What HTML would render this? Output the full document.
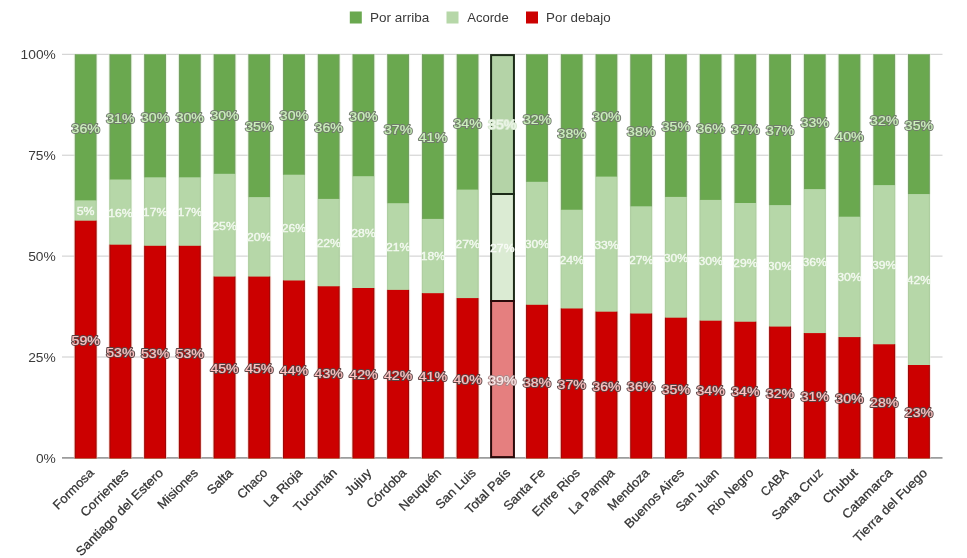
<!DOCTYPE html>
<html><head><meta charset="utf-8"><style>
html,body{margin:0;padding:0;background:#fff;width:967px;height:558px;overflow:hidden}
svg{display:block;filter:blur(0.45px)}
</style></head><body>
<svg width="967" height="558" viewBox="0 0 967 558">
<rect x="0" y="0" width="967" height="558" fill="#ffffff"/>
<rect x="349.8" y="11.5" width="12" height="12" fill="#6aa84f"/>
<text x="369.9" y="22.4" font-family="Liberation Sans, sans-serif" font-size="12.6" fill="#3a3a3a" textLength="59.3" lengthAdjust="spacingAndGlyphs">Por arriba</text>
<rect x="446.5" y="11.5" width="12" height="12" fill="#b6d7a8"/>
<text x="467.2" y="22.4" font-family="Liberation Sans, sans-serif" font-size="12.6" fill="#3a3a3a" textLength="41.5" lengthAdjust="spacingAndGlyphs">Acorde</text>
<rect x="526.0" y="11.5" width="12" height="12" fill="#cc0000"/>
<text x="546.1" y="22.4" font-family="Liberation Sans, sans-serif" font-size="12.6" fill="#3a3a3a" textLength="64.6" lengthAdjust="spacingAndGlyphs">Por debajo</text>
<rect x="62" y="53.80" width="880.5" height="1" fill="#cccccc"/>
<rect x="62" y="154.70" width="880.5" height="1" fill="#cccccc"/>
<rect x="62" y="255.60" width="880.5" height="1" fill="#cccccc"/>
<rect x="62" y="356.50" width="880.5" height="1" fill="#cccccc"/>
<text x="55.8" y="58.90" font-family="Liberation Sans, sans-serif" font-size="12.3" fill="#3c3c3c" text-anchor="end" textLength="35.2" lengthAdjust="spacingAndGlyphs">100%</text>
<text x="55.8" y="159.80" font-family="Liberation Sans, sans-serif" font-size="12.3" fill="#3c3c3c" text-anchor="end" textLength="27.6" lengthAdjust="spacingAndGlyphs">75%</text>
<text x="55.8" y="260.70" font-family="Liberation Sans, sans-serif" font-size="12.3" fill="#3c3c3c" text-anchor="end" textLength="27.6" lengthAdjust="spacingAndGlyphs">50%</text>
<text x="55.8" y="361.60" font-family="Liberation Sans, sans-serif" font-size="12.3" fill="#3c3c3c" text-anchor="end" textLength="27.6" lengthAdjust="spacingAndGlyphs">25%</text>
<text x="55.8" y="462.50" font-family="Liberation Sans, sans-serif" font-size="12.3" fill="#3c3c3c" text-anchor="end" textLength="19.9" lengthAdjust="spacingAndGlyphs">0%</text>
<rect x="62" y="457.15" width="880.5" height="1.5" fill="#8c8c8c"/>
<rect x="74.70" y="54.30" width="21.9" height="404.20" fill="#6aa84f"/>
<rect x="74.70" y="200.35" width="21.9" height="258.15" fill="#b6d7a8"/>
<rect x="74.70" y="220.70" width="21.9" height="237.80" fill="#cc0000"/>
<rect x="74.70" y="54.30" width="1" height="146.05" fill="#7d9675" opacity="0.55"/>
<rect x="95.60" y="54.30" width="1" height="146.05" fill="#7d9675" opacity="0.55"/>
<rect x="73.70" y="54.30" width="1" height="146.05" fill="#e2f4d9" opacity="0.6"/>
<rect x="96.60" y="54.30" width="1" height="146.05" fill="#e2f4d9" opacity="0.6"/>
<rect x="74.70" y="200.35" width="1" height="20.35" fill="#a3bd98" opacity="0.35"/>
<rect x="95.60" y="200.35" width="1" height="20.35" fill="#a3bd98" opacity="0.35"/>
<rect x="73.70" y="200.35" width="1" height="20.35" fill="#eef8ea" opacity="0.5"/>
<rect x="96.60" y="200.35" width="1" height="20.35" fill="#eef8ea" opacity="0.5"/>
<rect x="74.70" y="220.70" width="1" height="237.20" fill="#8a0c0c" opacity="0.75"/>
<rect x="95.60" y="220.70" width="1" height="237.20" fill="#8a0c0c" opacity="0.75"/>
<rect x="73.70" y="220.70" width="1" height="237.20" fill="#ffc4c4" opacity="0.6"/>
<rect x="96.60" y="220.70" width="1" height="237.20" fill="#ffc4c4" opacity="0.6"/>
<rect x="109.42" y="54.30" width="21.9" height="404.20" fill="#6aa84f"/>
<rect x="109.42" y="179.50" width="21.9" height="279.00" fill="#b6d7a8"/>
<rect x="109.42" y="244.70" width="21.9" height="213.80" fill="#cc0000"/>
<rect x="109.42" y="54.30" width="1" height="125.20" fill="#7d9675" opacity="0.55"/>
<rect x="130.32" y="54.30" width="1" height="125.20" fill="#7d9675" opacity="0.55"/>
<rect x="108.42" y="54.30" width="1" height="125.20" fill="#e2f4d9" opacity="0.6"/>
<rect x="131.32" y="54.30" width="1" height="125.20" fill="#e2f4d9" opacity="0.6"/>
<rect x="109.42" y="179.50" width="1" height="65.20" fill="#a3bd98" opacity="0.35"/>
<rect x="130.32" y="179.50" width="1" height="65.20" fill="#a3bd98" opacity="0.35"/>
<rect x="108.42" y="179.50" width="1" height="65.20" fill="#eef8ea" opacity="0.5"/>
<rect x="131.32" y="179.50" width="1" height="65.20" fill="#eef8ea" opacity="0.5"/>
<rect x="109.42" y="244.70" width="1" height="213.20" fill="#8a0c0c" opacity="0.75"/>
<rect x="130.32" y="244.70" width="1" height="213.20" fill="#8a0c0c" opacity="0.75"/>
<rect x="108.42" y="244.70" width="1" height="213.20" fill="#ffc4c4" opacity="0.6"/>
<rect x="131.32" y="244.70" width="1" height="213.20" fill="#ffc4c4" opacity="0.6"/>
<rect x="144.14" y="54.30" width="21.9" height="404.20" fill="#6aa84f"/>
<rect x="144.14" y="177.30" width="21.9" height="281.20" fill="#b6d7a8"/>
<rect x="144.14" y="245.80" width="21.9" height="212.70" fill="#cc0000"/>
<rect x="144.14" y="54.30" width="1" height="123.00" fill="#7d9675" opacity="0.55"/>
<rect x="165.04" y="54.30" width="1" height="123.00" fill="#7d9675" opacity="0.55"/>
<rect x="143.14" y="54.30" width="1" height="123.00" fill="#e2f4d9" opacity="0.6"/>
<rect x="166.04" y="54.30" width="1" height="123.00" fill="#e2f4d9" opacity="0.6"/>
<rect x="144.14" y="177.30" width="1" height="68.50" fill="#a3bd98" opacity="0.35"/>
<rect x="165.04" y="177.30" width="1" height="68.50" fill="#a3bd98" opacity="0.35"/>
<rect x="143.14" y="177.30" width="1" height="68.50" fill="#eef8ea" opacity="0.5"/>
<rect x="166.04" y="177.30" width="1" height="68.50" fill="#eef8ea" opacity="0.5"/>
<rect x="144.14" y="245.80" width="1" height="212.10" fill="#8a0c0c" opacity="0.75"/>
<rect x="165.04" y="245.80" width="1" height="212.10" fill="#8a0c0c" opacity="0.75"/>
<rect x="143.14" y="245.80" width="1" height="212.10" fill="#ffc4c4" opacity="0.6"/>
<rect x="166.04" y="245.80" width="1" height="212.10" fill="#ffc4c4" opacity="0.6"/>
<rect x="178.86" y="54.30" width="21.9" height="404.20" fill="#6aa84f"/>
<rect x="178.86" y="177.30" width="21.9" height="281.20" fill="#b6d7a8"/>
<rect x="178.86" y="245.80" width="21.9" height="212.70" fill="#cc0000"/>
<rect x="178.86" y="54.30" width="1" height="123.00" fill="#7d9675" opacity="0.55"/>
<rect x="199.76" y="54.30" width="1" height="123.00" fill="#7d9675" opacity="0.55"/>
<rect x="177.86" y="54.30" width="1" height="123.00" fill="#e2f4d9" opacity="0.6"/>
<rect x="200.76" y="54.30" width="1" height="123.00" fill="#e2f4d9" opacity="0.6"/>
<rect x="178.86" y="177.30" width="1" height="68.50" fill="#a3bd98" opacity="0.35"/>
<rect x="199.76" y="177.30" width="1" height="68.50" fill="#a3bd98" opacity="0.35"/>
<rect x="177.86" y="177.30" width="1" height="68.50" fill="#eef8ea" opacity="0.5"/>
<rect x="200.76" y="177.30" width="1" height="68.50" fill="#eef8ea" opacity="0.5"/>
<rect x="178.86" y="245.80" width="1" height="212.10" fill="#8a0c0c" opacity="0.75"/>
<rect x="199.76" y="245.80" width="1" height="212.10" fill="#8a0c0c" opacity="0.75"/>
<rect x="177.86" y="245.80" width="1" height="212.10" fill="#ffc4c4" opacity="0.6"/>
<rect x="200.76" y="245.80" width="1" height="212.10" fill="#ffc4c4" opacity="0.6"/>
<rect x="213.58" y="54.30" width="21.9" height="404.20" fill="#6aa84f"/>
<rect x="213.58" y="173.80" width="21.9" height="284.70" fill="#b6d7a8"/>
<rect x="213.58" y="276.60" width="21.9" height="181.90" fill="#cc0000"/>
<rect x="213.58" y="54.30" width="1" height="119.50" fill="#7d9675" opacity="0.55"/>
<rect x="234.48" y="54.30" width="1" height="119.50" fill="#7d9675" opacity="0.55"/>
<rect x="212.58" y="54.30" width="1" height="119.50" fill="#e2f4d9" opacity="0.6"/>
<rect x="235.48" y="54.30" width="1" height="119.50" fill="#e2f4d9" opacity="0.6"/>
<rect x="213.58" y="173.80" width="1" height="102.80" fill="#a3bd98" opacity="0.35"/>
<rect x="234.48" y="173.80" width="1" height="102.80" fill="#a3bd98" opacity="0.35"/>
<rect x="212.58" y="173.80" width="1" height="102.80" fill="#eef8ea" opacity="0.5"/>
<rect x="235.48" y="173.80" width="1" height="102.80" fill="#eef8ea" opacity="0.5"/>
<rect x="213.58" y="276.60" width="1" height="181.30" fill="#8a0c0c" opacity="0.75"/>
<rect x="234.48" y="276.60" width="1" height="181.30" fill="#8a0c0c" opacity="0.75"/>
<rect x="212.58" y="276.60" width="1" height="181.30" fill="#ffc4c4" opacity="0.6"/>
<rect x="235.48" y="276.60" width="1" height="181.30" fill="#ffc4c4" opacity="0.6"/>
<rect x="248.30" y="54.30" width="21.9" height="404.20" fill="#6aa84f"/>
<rect x="248.30" y="197.10" width="21.9" height="261.40" fill="#b6d7a8"/>
<rect x="248.30" y="276.60" width="21.9" height="181.90" fill="#cc0000"/>
<rect x="248.30" y="54.30" width="1" height="142.80" fill="#7d9675" opacity="0.55"/>
<rect x="269.20" y="54.30" width="1" height="142.80" fill="#7d9675" opacity="0.55"/>
<rect x="247.30" y="54.30" width="1" height="142.80" fill="#e2f4d9" opacity="0.6"/>
<rect x="270.20" y="54.30" width="1" height="142.80" fill="#e2f4d9" opacity="0.6"/>
<rect x="248.30" y="197.10" width="1" height="79.50" fill="#a3bd98" opacity="0.35"/>
<rect x="269.20" y="197.10" width="1" height="79.50" fill="#a3bd98" opacity="0.35"/>
<rect x="247.30" y="197.10" width="1" height="79.50" fill="#eef8ea" opacity="0.5"/>
<rect x="270.20" y="197.10" width="1" height="79.50" fill="#eef8ea" opacity="0.5"/>
<rect x="248.30" y="276.60" width="1" height="181.30" fill="#8a0c0c" opacity="0.75"/>
<rect x="269.20" y="276.60" width="1" height="181.30" fill="#8a0c0c" opacity="0.75"/>
<rect x="247.30" y="276.60" width="1" height="181.30" fill="#ffc4c4" opacity="0.6"/>
<rect x="270.20" y="276.60" width="1" height="181.30" fill="#ffc4c4" opacity="0.6"/>
<rect x="283.02" y="54.30" width="21.9" height="404.20" fill="#6aa84f"/>
<rect x="283.02" y="174.70" width="21.9" height="283.80" fill="#b6d7a8"/>
<rect x="283.02" y="280.50" width="21.9" height="178.00" fill="#cc0000"/>
<rect x="283.02" y="54.30" width="1" height="120.40" fill="#7d9675" opacity="0.55"/>
<rect x="303.92" y="54.30" width="1" height="120.40" fill="#7d9675" opacity="0.55"/>
<rect x="282.02" y="54.30" width="1" height="120.40" fill="#e2f4d9" opacity="0.6"/>
<rect x="304.92" y="54.30" width="1" height="120.40" fill="#e2f4d9" opacity="0.6"/>
<rect x="283.02" y="174.70" width="1" height="105.80" fill="#a3bd98" opacity="0.35"/>
<rect x="303.92" y="174.70" width="1" height="105.80" fill="#a3bd98" opacity="0.35"/>
<rect x="282.02" y="174.70" width="1" height="105.80" fill="#eef8ea" opacity="0.5"/>
<rect x="304.92" y="174.70" width="1" height="105.80" fill="#eef8ea" opacity="0.5"/>
<rect x="283.02" y="280.50" width="1" height="177.40" fill="#8a0c0c" opacity="0.75"/>
<rect x="303.92" y="280.50" width="1" height="177.40" fill="#8a0c0c" opacity="0.75"/>
<rect x="282.02" y="280.50" width="1" height="177.40" fill="#ffc4c4" opacity="0.6"/>
<rect x="304.92" y="280.50" width="1" height="177.40" fill="#ffc4c4" opacity="0.6"/>
<rect x="317.74" y="54.30" width="21.9" height="404.20" fill="#6aa84f"/>
<rect x="317.74" y="198.90" width="21.9" height="259.60" fill="#b6d7a8"/>
<rect x="317.74" y="286.30" width="21.9" height="172.20" fill="#cc0000"/>
<rect x="317.74" y="54.30" width="1" height="144.60" fill="#7d9675" opacity="0.55"/>
<rect x="338.64" y="54.30" width="1" height="144.60" fill="#7d9675" opacity="0.55"/>
<rect x="316.74" y="54.30" width="1" height="144.60" fill="#e2f4d9" opacity="0.6"/>
<rect x="339.64" y="54.30" width="1" height="144.60" fill="#e2f4d9" opacity="0.6"/>
<rect x="317.74" y="198.90" width="1" height="87.40" fill="#a3bd98" opacity="0.35"/>
<rect x="338.64" y="198.90" width="1" height="87.40" fill="#a3bd98" opacity="0.35"/>
<rect x="316.74" y="198.90" width="1" height="87.40" fill="#eef8ea" opacity="0.5"/>
<rect x="339.64" y="198.90" width="1" height="87.40" fill="#eef8ea" opacity="0.5"/>
<rect x="317.74" y="286.30" width="1" height="171.60" fill="#8a0c0c" opacity="0.75"/>
<rect x="338.64" y="286.30" width="1" height="171.60" fill="#8a0c0c" opacity="0.75"/>
<rect x="316.74" y="286.30" width="1" height="171.60" fill="#ffc4c4" opacity="0.6"/>
<rect x="339.64" y="286.30" width="1" height="171.60" fill="#ffc4c4" opacity="0.6"/>
<rect x="352.46" y="54.30" width="21.9" height="404.20" fill="#6aa84f"/>
<rect x="352.46" y="176.20" width="21.9" height="282.30" fill="#b6d7a8"/>
<rect x="352.46" y="288.00" width="21.9" height="170.50" fill="#cc0000"/>
<rect x="352.46" y="54.30" width="1" height="121.90" fill="#7d9675" opacity="0.55"/>
<rect x="373.36" y="54.30" width="1" height="121.90" fill="#7d9675" opacity="0.55"/>
<rect x="351.46" y="54.30" width="1" height="121.90" fill="#e2f4d9" opacity="0.6"/>
<rect x="374.36" y="54.30" width="1" height="121.90" fill="#e2f4d9" opacity="0.6"/>
<rect x="352.46" y="176.20" width="1" height="111.80" fill="#a3bd98" opacity="0.35"/>
<rect x="373.36" y="176.20" width="1" height="111.80" fill="#a3bd98" opacity="0.35"/>
<rect x="351.46" y="176.20" width="1" height="111.80" fill="#eef8ea" opacity="0.5"/>
<rect x="374.36" y="176.20" width="1" height="111.80" fill="#eef8ea" opacity="0.5"/>
<rect x="352.46" y="288.00" width="1" height="169.90" fill="#8a0c0c" opacity="0.75"/>
<rect x="373.36" y="288.00" width="1" height="169.90" fill="#8a0c0c" opacity="0.75"/>
<rect x="351.46" y="288.00" width="1" height="169.90" fill="#ffc4c4" opacity="0.6"/>
<rect x="374.36" y="288.00" width="1" height="169.90" fill="#ffc4c4" opacity="0.6"/>
<rect x="387.18" y="54.30" width="21.9" height="404.20" fill="#6aa84f"/>
<rect x="387.18" y="203.20" width="21.9" height="255.30" fill="#b6d7a8"/>
<rect x="387.18" y="289.90" width="21.9" height="168.60" fill="#cc0000"/>
<rect x="387.18" y="54.30" width="1" height="148.90" fill="#7d9675" opacity="0.55"/>
<rect x="408.08" y="54.30" width="1" height="148.90" fill="#7d9675" opacity="0.55"/>
<rect x="386.18" y="54.30" width="1" height="148.90" fill="#e2f4d9" opacity="0.6"/>
<rect x="409.08" y="54.30" width="1" height="148.90" fill="#e2f4d9" opacity="0.6"/>
<rect x="387.18" y="203.20" width="1" height="86.70" fill="#a3bd98" opacity="0.35"/>
<rect x="408.08" y="203.20" width="1" height="86.70" fill="#a3bd98" opacity="0.35"/>
<rect x="386.18" y="203.20" width="1" height="86.70" fill="#eef8ea" opacity="0.5"/>
<rect x="409.08" y="203.20" width="1" height="86.70" fill="#eef8ea" opacity="0.5"/>
<rect x="387.18" y="289.90" width="1" height="168.00" fill="#8a0c0c" opacity="0.75"/>
<rect x="408.08" y="289.90" width="1" height="168.00" fill="#8a0c0c" opacity="0.75"/>
<rect x="386.18" y="289.90" width="1" height="168.00" fill="#ffc4c4" opacity="0.6"/>
<rect x="409.08" y="289.90" width="1" height="168.00" fill="#ffc4c4" opacity="0.6"/>
<rect x="421.90" y="54.30" width="21.9" height="404.20" fill="#6aa84f"/>
<rect x="421.90" y="218.90" width="21.9" height="239.60" fill="#b6d7a8"/>
<rect x="421.90" y="293.20" width="21.9" height="165.30" fill="#cc0000"/>
<rect x="421.90" y="54.30" width="1" height="164.60" fill="#7d9675" opacity="0.55"/>
<rect x="442.80" y="54.30" width="1" height="164.60" fill="#7d9675" opacity="0.55"/>
<rect x="420.90" y="54.30" width="1" height="164.60" fill="#e2f4d9" opacity="0.6"/>
<rect x="443.80" y="54.30" width="1" height="164.60" fill="#e2f4d9" opacity="0.6"/>
<rect x="421.90" y="218.90" width="1" height="74.30" fill="#a3bd98" opacity="0.35"/>
<rect x="442.80" y="218.90" width="1" height="74.30" fill="#a3bd98" opacity="0.35"/>
<rect x="420.90" y="218.90" width="1" height="74.30" fill="#eef8ea" opacity="0.5"/>
<rect x="443.80" y="218.90" width="1" height="74.30" fill="#eef8ea" opacity="0.5"/>
<rect x="421.90" y="293.20" width="1" height="164.70" fill="#8a0c0c" opacity="0.75"/>
<rect x="442.80" y="293.20" width="1" height="164.70" fill="#8a0c0c" opacity="0.75"/>
<rect x="420.90" y="293.20" width="1" height="164.70" fill="#ffc4c4" opacity="0.6"/>
<rect x="443.80" y="293.20" width="1" height="164.70" fill="#ffc4c4" opacity="0.6"/>
<rect x="456.62" y="54.30" width="21.9" height="404.20" fill="#6aa84f"/>
<rect x="456.62" y="189.60" width="21.9" height="268.90" fill="#b6d7a8"/>
<rect x="456.62" y="298.10" width="21.9" height="160.40" fill="#cc0000"/>
<rect x="456.62" y="54.30" width="1" height="135.30" fill="#7d9675" opacity="0.55"/>
<rect x="477.52" y="54.30" width="1" height="135.30" fill="#7d9675" opacity="0.55"/>
<rect x="455.62" y="54.30" width="1" height="135.30" fill="#e2f4d9" opacity="0.6"/>
<rect x="478.52" y="54.30" width="1" height="135.30" fill="#e2f4d9" opacity="0.6"/>
<rect x="456.62" y="189.60" width="1" height="108.50" fill="#a3bd98" opacity="0.35"/>
<rect x="477.52" y="189.60" width="1" height="108.50" fill="#a3bd98" opacity="0.35"/>
<rect x="455.62" y="189.60" width="1" height="108.50" fill="#eef8ea" opacity="0.5"/>
<rect x="478.52" y="189.60" width="1" height="108.50" fill="#eef8ea" opacity="0.5"/>
<rect x="456.62" y="298.10" width="1" height="159.80" fill="#8a0c0c" opacity="0.75"/>
<rect x="477.52" y="298.10" width="1" height="159.80" fill="#8a0c0c" opacity="0.75"/>
<rect x="455.62" y="298.10" width="1" height="159.80" fill="#ffc4c4" opacity="0.6"/>
<rect x="478.52" y="298.10" width="1" height="159.80" fill="#ffc4c4" opacity="0.6"/>
<rect x="491.09" y="55.10" width="22.85" height="138.90" fill="#b4d3a7" stroke="#1c2b18" stroke-width="2"/>
<rect x="491.09" y="194.00" width="22.85" height="107.00" fill="#dbebd3" stroke="#1c2b18" stroke-width="2"/>
<rect x="491.09" y="301.00" width="22.85" height="156.10" fill="#e57f7f" stroke="#2a0a0a" stroke-width="2"/>
<rect x="526.06" y="54.30" width="21.9" height="404.20" fill="#6aa84f"/>
<rect x="526.06" y="181.80" width="21.9" height="276.70" fill="#b6d7a8"/>
<rect x="526.06" y="304.80" width="21.9" height="153.70" fill="#cc0000"/>
<rect x="526.06" y="54.30" width="1" height="127.50" fill="#7d9675" opacity="0.55"/>
<rect x="546.96" y="54.30" width="1" height="127.50" fill="#7d9675" opacity="0.55"/>
<rect x="525.06" y="54.30" width="1" height="127.50" fill="#e2f4d9" opacity="0.6"/>
<rect x="547.96" y="54.30" width="1" height="127.50" fill="#e2f4d9" opacity="0.6"/>
<rect x="526.06" y="181.80" width="1" height="123.00" fill="#a3bd98" opacity="0.35"/>
<rect x="546.96" y="181.80" width="1" height="123.00" fill="#a3bd98" opacity="0.35"/>
<rect x="525.06" y="181.80" width="1" height="123.00" fill="#eef8ea" opacity="0.5"/>
<rect x="547.96" y="181.80" width="1" height="123.00" fill="#eef8ea" opacity="0.5"/>
<rect x="526.06" y="304.80" width="1" height="153.10" fill="#8a0c0c" opacity="0.75"/>
<rect x="546.96" y="304.80" width="1" height="153.10" fill="#8a0c0c" opacity="0.75"/>
<rect x="525.06" y="304.80" width="1" height="153.10" fill="#ffc4c4" opacity="0.6"/>
<rect x="547.96" y="304.80" width="1" height="153.10" fill="#ffc4c4" opacity="0.6"/>
<rect x="560.78" y="54.30" width="21.9" height="404.20" fill="#6aa84f"/>
<rect x="560.78" y="209.75" width="21.9" height="248.75" fill="#b6d7a8"/>
<rect x="560.78" y="308.50" width="21.9" height="150.00" fill="#cc0000"/>
<rect x="560.78" y="54.30" width="1" height="155.45" fill="#7d9675" opacity="0.55"/>
<rect x="581.68" y="54.30" width="1" height="155.45" fill="#7d9675" opacity="0.55"/>
<rect x="559.78" y="54.30" width="1" height="155.45" fill="#e2f4d9" opacity="0.6"/>
<rect x="582.68" y="54.30" width="1" height="155.45" fill="#e2f4d9" opacity="0.6"/>
<rect x="560.78" y="209.75" width="1" height="98.75" fill="#a3bd98" opacity="0.35"/>
<rect x="581.68" y="209.75" width="1" height="98.75" fill="#a3bd98" opacity="0.35"/>
<rect x="559.78" y="209.75" width="1" height="98.75" fill="#eef8ea" opacity="0.5"/>
<rect x="582.68" y="209.75" width="1" height="98.75" fill="#eef8ea" opacity="0.5"/>
<rect x="560.78" y="308.50" width="1" height="149.40" fill="#8a0c0c" opacity="0.75"/>
<rect x="581.68" y="308.50" width="1" height="149.40" fill="#8a0c0c" opacity="0.75"/>
<rect x="559.78" y="308.50" width="1" height="149.40" fill="#ffc4c4" opacity="0.6"/>
<rect x="582.68" y="308.50" width="1" height="149.40" fill="#ffc4c4" opacity="0.6"/>
<rect x="595.50" y="54.30" width="21.9" height="404.20" fill="#6aa84f"/>
<rect x="595.50" y="176.60" width="21.9" height="281.90" fill="#b6d7a8"/>
<rect x="595.50" y="311.70" width="21.9" height="146.80" fill="#cc0000"/>
<rect x="595.50" y="54.30" width="1" height="122.30" fill="#7d9675" opacity="0.55"/>
<rect x="616.40" y="54.30" width="1" height="122.30" fill="#7d9675" opacity="0.55"/>
<rect x="594.50" y="54.30" width="1" height="122.30" fill="#e2f4d9" opacity="0.6"/>
<rect x="617.40" y="54.30" width="1" height="122.30" fill="#e2f4d9" opacity="0.6"/>
<rect x="595.50" y="176.60" width="1" height="135.10" fill="#a3bd98" opacity="0.35"/>
<rect x="616.40" y="176.60" width="1" height="135.10" fill="#a3bd98" opacity="0.35"/>
<rect x="594.50" y="176.60" width="1" height="135.10" fill="#eef8ea" opacity="0.5"/>
<rect x="617.40" y="176.60" width="1" height="135.10" fill="#eef8ea" opacity="0.5"/>
<rect x="595.50" y="311.70" width="1" height="146.20" fill="#8a0c0c" opacity="0.75"/>
<rect x="616.40" y="311.70" width="1" height="146.20" fill="#8a0c0c" opacity="0.75"/>
<rect x="594.50" y="311.70" width="1" height="146.20" fill="#ffc4c4" opacity="0.6"/>
<rect x="617.40" y="311.70" width="1" height="146.20" fill="#ffc4c4" opacity="0.6"/>
<rect x="630.22" y="54.30" width="21.9" height="404.20" fill="#6aa84f"/>
<rect x="630.22" y="206.30" width="21.9" height="252.20" fill="#b6d7a8"/>
<rect x="630.22" y="313.55" width="21.9" height="144.95" fill="#cc0000"/>
<rect x="630.22" y="54.30" width="1" height="152.00" fill="#7d9675" opacity="0.55"/>
<rect x="651.12" y="54.30" width="1" height="152.00" fill="#7d9675" opacity="0.55"/>
<rect x="629.22" y="54.30" width="1" height="152.00" fill="#e2f4d9" opacity="0.6"/>
<rect x="652.12" y="54.30" width="1" height="152.00" fill="#e2f4d9" opacity="0.6"/>
<rect x="630.22" y="206.30" width="1" height="107.25" fill="#a3bd98" opacity="0.35"/>
<rect x="651.12" y="206.30" width="1" height="107.25" fill="#a3bd98" opacity="0.35"/>
<rect x="629.22" y="206.30" width="1" height="107.25" fill="#eef8ea" opacity="0.5"/>
<rect x="652.12" y="206.30" width="1" height="107.25" fill="#eef8ea" opacity="0.5"/>
<rect x="630.22" y="313.55" width="1" height="144.35" fill="#8a0c0c" opacity="0.75"/>
<rect x="651.12" y="313.55" width="1" height="144.35" fill="#8a0c0c" opacity="0.75"/>
<rect x="629.22" y="313.55" width="1" height="144.35" fill="#ffc4c4" opacity="0.6"/>
<rect x="652.12" y="313.55" width="1" height="144.35" fill="#ffc4c4" opacity="0.6"/>
<rect x="664.94" y="54.30" width="21.9" height="404.20" fill="#6aa84f"/>
<rect x="664.94" y="196.90" width="21.9" height="261.60" fill="#b6d7a8"/>
<rect x="664.94" y="317.70" width="21.9" height="140.80" fill="#cc0000"/>
<rect x="664.94" y="54.30" width="1" height="142.60" fill="#7d9675" opacity="0.55"/>
<rect x="685.84" y="54.30" width="1" height="142.60" fill="#7d9675" opacity="0.55"/>
<rect x="663.94" y="54.30" width="1" height="142.60" fill="#e2f4d9" opacity="0.6"/>
<rect x="686.84" y="54.30" width="1" height="142.60" fill="#e2f4d9" opacity="0.6"/>
<rect x="664.94" y="196.90" width="1" height="120.80" fill="#a3bd98" opacity="0.35"/>
<rect x="685.84" y="196.90" width="1" height="120.80" fill="#a3bd98" opacity="0.35"/>
<rect x="663.94" y="196.90" width="1" height="120.80" fill="#eef8ea" opacity="0.5"/>
<rect x="686.84" y="196.90" width="1" height="120.80" fill="#eef8ea" opacity="0.5"/>
<rect x="664.94" y="317.70" width="1" height="140.20" fill="#8a0c0c" opacity="0.75"/>
<rect x="685.84" y="317.70" width="1" height="140.20" fill="#8a0c0c" opacity="0.75"/>
<rect x="663.94" y="317.70" width="1" height="140.20" fill="#ffc4c4" opacity="0.6"/>
<rect x="686.84" y="317.70" width="1" height="140.20" fill="#ffc4c4" opacity="0.6"/>
<rect x="699.66" y="54.30" width="21.9" height="404.20" fill="#6aa84f"/>
<rect x="699.66" y="199.90" width="21.9" height="258.60" fill="#b6d7a8"/>
<rect x="699.66" y="320.70" width="21.9" height="137.80" fill="#cc0000"/>
<rect x="699.66" y="54.30" width="1" height="145.60" fill="#7d9675" opacity="0.55"/>
<rect x="720.56" y="54.30" width="1" height="145.60" fill="#7d9675" opacity="0.55"/>
<rect x="698.66" y="54.30" width="1" height="145.60" fill="#e2f4d9" opacity="0.6"/>
<rect x="721.56" y="54.30" width="1" height="145.60" fill="#e2f4d9" opacity="0.6"/>
<rect x="699.66" y="199.90" width="1" height="120.80" fill="#a3bd98" opacity="0.35"/>
<rect x="720.56" y="199.90" width="1" height="120.80" fill="#a3bd98" opacity="0.35"/>
<rect x="698.66" y="199.90" width="1" height="120.80" fill="#eef8ea" opacity="0.5"/>
<rect x="721.56" y="199.90" width="1" height="120.80" fill="#eef8ea" opacity="0.5"/>
<rect x="699.66" y="320.70" width="1" height="137.20" fill="#8a0c0c" opacity="0.75"/>
<rect x="720.56" y="320.70" width="1" height="137.20" fill="#8a0c0c" opacity="0.75"/>
<rect x="698.66" y="320.70" width="1" height="137.20" fill="#ffc4c4" opacity="0.6"/>
<rect x="721.56" y="320.70" width="1" height="137.20" fill="#ffc4c4" opacity="0.6"/>
<rect x="734.38" y="54.30" width="21.9" height="404.20" fill="#6aa84f"/>
<rect x="734.38" y="203.00" width="21.9" height="255.50" fill="#b6d7a8"/>
<rect x="734.38" y="321.75" width="21.9" height="136.75" fill="#cc0000"/>
<rect x="734.38" y="54.30" width="1" height="148.70" fill="#7d9675" opacity="0.55"/>
<rect x="755.28" y="54.30" width="1" height="148.70" fill="#7d9675" opacity="0.55"/>
<rect x="733.38" y="54.30" width="1" height="148.70" fill="#e2f4d9" opacity="0.6"/>
<rect x="756.28" y="54.30" width="1" height="148.70" fill="#e2f4d9" opacity="0.6"/>
<rect x="734.38" y="203.00" width="1" height="118.75" fill="#a3bd98" opacity="0.35"/>
<rect x="755.28" y="203.00" width="1" height="118.75" fill="#a3bd98" opacity="0.35"/>
<rect x="733.38" y="203.00" width="1" height="118.75" fill="#eef8ea" opacity="0.5"/>
<rect x="756.28" y="203.00" width="1" height="118.75" fill="#eef8ea" opacity="0.5"/>
<rect x="734.38" y="321.75" width="1" height="136.15" fill="#8a0c0c" opacity="0.75"/>
<rect x="755.28" y="321.75" width="1" height="136.15" fill="#8a0c0c" opacity="0.75"/>
<rect x="733.38" y="321.75" width="1" height="136.15" fill="#ffc4c4" opacity="0.6"/>
<rect x="756.28" y="321.75" width="1" height="136.15" fill="#ffc4c4" opacity="0.6"/>
<rect x="769.10" y="54.30" width="21.9" height="404.20" fill="#6aa84f"/>
<rect x="769.10" y="205.10" width="21.9" height="253.40" fill="#b6d7a8"/>
<rect x="769.10" y="326.60" width="21.9" height="131.90" fill="#cc0000"/>
<rect x="769.10" y="54.30" width="1" height="150.80" fill="#7d9675" opacity="0.55"/>
<rect x="790.00" y="54.30" width="1" height="150.80" fill="#7d9675" opacity="0.55"/>
<rect x="768.10" y="54.30" width="1" height="150.80" fill="#e2f4d9" opacity="0.6"/>
<rect x="791.00" y="54.30" width="1" height="150.80" fill="#e2f4d9" opacity="0.6"/>
<rect x="769.10" y="205.10" width="1" height="121.50" fill="#a3bd98" opacity="0.35"/>
<rect x="790.00" y="205.10" width="1" height="121.50" fill="#a3bd98" opacity="0.35"/>
<rect x="768.10" y="205.10" width="1" height="121.50" fill="#eef8ea" opacity="0.5"/>
<rect x="791.00" y="205.10" width="1" height="121.50" fill="#eef8ea" opacity="0.5"/>
<rect x="769.10" y="326.60" width="1" height="131.30" fill="#8a0c0c" opacity="0.75"/>
<rect x="790.00" y="326.60" width="1" height="131.30" fill="#8a0c0c" opacity="0.75"/>
<rect x="768.10" y="326.60" width="1" height="131.30" fill="#ffc4c4" opacity="0.6"/>
<rect x="791.00" y="326.60" width="1" height="131.30" fill="#ffc4c4" opacity="0.6"/>
<rect x="803.82" y="54.30" width="21.9" height="404.20" fill="#6aa84f"/>
<rect x="803.82" y="189.10" width="21.9" height="269.40" fill="#b6d7a8"/>
<rect x="803.82" y="333.10" width="21.9" height="125.40" fill="#cc0000"/>
<rect x="803.82" y="54.30" width="1" height="134.80" fill="#7d9675" opacity="0.55"/>
<rect x="824.72" y="54.30" width="1" height="134.80" fill="#7d9675" opacity="0.55"/>
<rect x="802.82" y="54.30" width="1" height="134.80" fill="#e2f4d9" opacity="0.6"/>
<rect x="825.72" y="54.30" width="1" height="134.80" fill="#e2f4d9" opacity="0.6"/>
<rect x="803.82" y="189.10" width="1" height="144.00" fill="#a3bd98" opacity="0.35"/>
<rect x="824.72" y="189.10" width="1" height="144.00" fill="#a3bd98" opacity="0.35"/>
<rect x="802.82" y="189.10" width="1" height="144.00" fill="#eef8ea" opacity="0.5"/>
<rect x="825.72" y="189.10" width="1" height="144.00" fill="#eef8ea" opacity="0.5"/>
<rect x="803.82" y="333.10" width="1" height="124.80" fill="#8a0c0c" opacity="0.75"/>
<rect x="824.72" y="333.10" width="1" height="124.80" fill="#8a0c0c" opacity="0.75"/>
<rect x="802.82" y="333.10" width="1" height="124.80" fill="#ffc4c4" opacity="0.6"/>
<rect x="825.72" y="333.10" width="1" height="124.80" fill="#ffc4c4" opacity="0.6"/>
<rect x="838.54" y="54.30" width="21.9" height="404.20" fill="#6aa84f"/>
<rect x="838.54" y="216.70" width="21.9" height="241.80" fill="#b6d7a8"/>
<rect x="838.54" y="337.10" width="21.9" height="121.40" fill="#cc0000"/>
<rect x="838.54" y="54.30" width="1" height="162.40" fill="#7d9675" opacity="0.55"/>
<rect x="859.44" y="54.30" width="1" height="162.40" fill="#7d9675" opacity="0.55"/>
<rect x="837.54" y="54.30" width="1" height="162.40" fill="#e2f4d9" opacity="0.6"/>
<rect x="860.44" y="54.30" width="1" height="162.40" fill="#e2f4d9" opacity="0.6"/>
<rect x="838.54" y="216.70" width="1" height="120.40" fill="#a3bd98" opacity="0.35"/>
<rect x="859.44" y="216.70" width="1" height="120.40" fill="#a3bd98" opacity="0.35"/>
<rect x="837.54" y="216.70" width="1" height="120.40" fill="#eef8ea" opacity="0.5"/>
<rect x="860.44" y="216.70" width="1" height="120.40" fill="#eef8ea" opacity="0.5"/>
<rect x="838.54" y="337.10" width="1" height="120.80" fill="#8a0c0c" opacity="0.75"/>
<rect x="859.44" y="337.10" width="1" height="120.80" fill="#8a0c0c" opacity="0.75"/>
<rect x="837.54" y="337.10" width="1" height="120.80" fill="#ffc4c4" opacity="0.6"/>
<rect x="860.44" y="337.10" width="1" height="120.80" fill="#ffc4c4" opacity="0.6"/>
<rect x="873.26" y="54.30" width="21.9" height="404.20" fill="#6aa84f"/>
<rect x="873.26" y="185.10" width="21.9" height="273.40" fill="#b6d7a8"/>
<rect x="873.26" y="344.30" width="21.9" height="114.20" fill="#cc0000"/>
<rect x="873.26" y="54.30" width="1" height="130.80" fill="#7d9675" opacity="0.55"/>
<rect x="894.16" y="54.30" width="1" height="130.80" fill="#7d9675" opacity="0.55"/>
<rect x="872.26" y="54.30" width="1" height="130.80" fill="#e2f4d9" opacity="0.6"/>
<rect x="895.16" y="54.30" width="1" height="130.80" fill="#e2f4d9" opacity="0.6"/>
<rect x="873.26" y="185.10" width="1" height="159.20" fill="#a3bd98" opacity="0.35"/>
<rect x="894.16" y="185.10" width="1" height="159.20" fill="#a3bd98" opacity="0.35"/>
<rect x="872.26" y="185.10" width="1" height="159.20" fill="#eef8ea" opacity="0.5"/>
<rect x="895.16" y="185.10" width="1" height="159.20" fill="#eef8ea" opacity="0.5"/>
<rect x="873.26" y="344.30" width="1" height="113.60" fill="#8a0c0c" opacity="0.75"/>
<rect x="894.16" y="344.30" width="1" height="113.60" fill="#8a0c0c" opacity="0.75"/>
<rect x="872.26" y="344.30" width="1" height="113.60" fill="#ffc4c4" opacity="0.6"/>
<rect x="895.16" y="344.30" width="1" height="113.60" fill="#ffc4c4" opacity="0.6"/>
<rect x="907.98" y="54.30" width="21.9" height="404.20" fill="#6aa84f"/>
<rect x="907.98" y="194.05" width="21.9" height="264.45" fill="#b6d7a8"/>
<rect x="907.98" y="365.00" width="21.9" height="93.50" fill="#cc0000"/>
<rect x="907.98" y="54.30" width="1" height="139.75" fill="#7d9675" opacity="0.55"/>
<rect x="928.88" y="54.30" width="1" height="139.75" fill="#7d9675" opacity="0.55"/>
<rect x="906.98" y="54.30" width="1" height="139.75" fill="#e2f4d9" opacity="0.6"/>
<rect x="929.88" y="54.30" width="1" height="139.75" fill="#e2f4d9" opacity="0.6"/>
<rect x="907.98" y="194.05" width="1" height="170.95" fill="#a3bd98" opacity="0.35"/>
<rect x="928.88" y="194.05" width="1" height="170.95" fill="#a3bd98" opacity="0.35"/>
<rect x="906.98" y="194.05" width="1" height="170.95" fill="#eef8ea" opacity="0.5"/>
<rect x="929.88" y="194.05" width="1" height="170.95" fill="#eef8ea" opacity="0.5"/>
<rect x="907.98" y="365.00" width="1" height="92.90" fill="#8a0c0c" opacity="0.75"/>
<rect x="928.88" y="365.00" width="1" height="92.90" fill="#8a0c0c" opacity="0.75"/>
<rect x="906.98" y="365.00" width="1" height="92.90" fill="#ffc4c4" opacity="0.6"/>
<rect x="929.88" y="365.00" width="1" height="92.90" fill="#ffc4c4" opacity="0.6"/>
<text x="85.65" y="133.04" font-family="Liberation Sans, sans-serif" font-size="12.6" fill="#727a6e" stroke="#727a6e" stroke-width="2.0" stroke-linejoin="round" text-anchor="middle" textLength="28.2" lengthAdjust="spacingAndGlyphs">36%</text>
<text x="85.65" y="133.04" font-family="Liberation Sans, sans-serif" font-size="12.6" fill="#cdf3bd" stroke="#cdf3bd" stroke-width="0.2" stroke-linejoin="round" text-anchor="middle" textLength="28.2" lengthAdjust="spacingAndGlyphs">36%</text>
<text x="85.65" y="214.94" font-family="Liberation Sans, sans-serif" font-size="10.1" fill="#f3f9f0" stroke="#f3f9f0" stroke-width="0.35" text-anchor="middle" textLength="17.8" lengthAdjust="spacingAndGlyphs">5%</text>
<text x="85.65" y="345.01" font-family="Liberation Sans, sans-serif" font-size="12.6" fill="#5a4444" stroke="#5a4444" stroke-width="2.0" stroke-linejoin="round" text-anchor="middle" textLength="28.2" lengthAdjust="spacingAndGlyphs">59%</text>
<text x="85.65" y="345.01" font-family="Liberation Sans, sans-serif" font-size="12.6" fill="#ffc4c4" stroke="#ffc4c4" stroke-width="0.2" stroke-linejoin="round" text-anchor="middle" textLength="28.2" lengthAdjust="spacingAndGlyphs">59%</text>
<text x="120.37" y="122.61" font-family="Liberation Sans, sans-serif" font-size="12.6" fill="#727a6e" stroke="#727a6e" stroke-width="2.0" stroke-linejoin="round" text-anchor="middle" textLength="28.2" lengthAdjust="spacingAndGlyphs">31%</text>
<text x="120.37" y="122.61" font-family="Liberation Sans, sans-serif" font-size="12.6" fill="#cdf3bd" stroke="#cdf3bd" stroke-width="0.2" stroke-linejoin="round" text-anchor="middle" textLength="28.2" lengthAdjust="spacingAndGlyphs">31%</text>
<text x="120.37" y="216.52" font-family="Liberation Sans, sans-serif" font-size="10.1" fill="#f3f9f0" stroke="#f3f9f0" stroke-width="0.35" text-anchor="middle" textLength="24.4" lengthAdjust="spacingAndGlyphs">16%</text>
<text x="120.37" y="357.01" font-family="Liberation Sans, sans-serif" font-size="12.6" fill="#5a4444" stroke="#5a4444" stroke-width="2.0" stroke-linejoin="round" text-anchor="middle" textLength="28.2" lengthAdjust="spacingAndGlyphs">53%</text>
<text x="120.37" y="357.01" font-family="Liberation Sans, sans-serif" font-size="12.6" fill="#ffc4c4" stroke="#ffc4c4" stroke-width="0.2" stroke-linejoin="round" text-anchor="middle" textLength="28.2" lengthAdjust="spacingAndGlyphs">53%</text>
<text x="155.09" y="121.51" font-family="Liberation Sans, sans-serif" font-size="12.6" fill="#727a6e" stroke="#727a6e" stroke-width="2.0" stroke-linejoin="round" text-anchor="middle" textLength="28.2" lengthAdjust="spacingAndGlyphs">30%</text>
<text x="155.09" y="121.51" font-family="Liberation Sans, sans-serif" font-size="12.6" fill="#cdf3bd" stroke="#cdf3bd" stroke-width="0.2" stroke-linejoin="round" text-anchor="middle" textLength="28.2" lengthAdjust="spacingAndGlyphs">30%</text>
<text x="155.09" y="215.97" font-family="Liberation Sans, sans-serif" font-size="10.1" fill="#f3f9f0" stroke="#f3f9f0" stroke-width="0.35" text-anchor="middle" textLength="24.4" lengthAdjust="spacingAndGlyphs">17%</text>
<text x="155.09" y="357.56" font-family="Liberation Sans, sans-serif" font-size="12.6" fill="#5a4444" stroke="#5a4444" stroke-width="2.0" stroke-linejoin="round" text-anchor="middle" textLength="28.2" lengthAdjust="spacingAndGlyphs">53%</text>
<text x="155.09" y="357.56" font-family="Liberation Sans, sans-serif" font-size="12.6" fill="#ffc4c4" stroke="#ffc4c4" stroke-width="0.2" stroke-linejoin="round" text-anchor="middle" textLength="28.2" lengthAdjust="spacingAndGlyphs">53%</text>
<text x="189.81" y="121.51" font-family="Liberation Sans, sans-serif" font-size="12.6" fill="#727a6e" stroke="#727a6e" stroke-width="2.0" stroke-linejoin="round" text-anchor="middle" textLength="28.2" lengthAdjust="spacingAndGlyphs">30%</text>
<text x="189.81" y="121.51" font-family="Liberation Sans, sans-serif" font-size="12.6" fill="#cdf3bd" stroke="#cdf3bd" stroke-width="0.2" stroke-linejoin="round" text-anchor="middle" textLength="28.2" lengthAdjust="spacingAndGlyphs">30%</text>
<text x="189.81" y="215.97" font-family="Liberation Sans, sans-serif" font-size="10.1" fill="#f3f9f0" stroke="#f3f9f0" stroke-width="0.35" text-anchor="middle" textLength="24.4" lengthAdjust="spacingAndGlyphs">17%</text>
<text x="189.81" y="357.56" font-family="Liberation Sans, sans-serif" font-size="12.6" fill="#5a4444" stroke="#5a4444" stroke-width="2.0" stroke-linejoin="round" text-anchor="middle" textLength="28.2" lengthAdjust="spacingAndGlyphs">53%</text>
<text x="189.81" y="357.56" font-family="Liberation Sans, sans-serif" font-size="12.6" fill="#ffc4c4" stroke="#ffc4c4" stroke-width="0.2" stroke-linejoin="round" text-anchor="middle" textLength="28.2" lengthAdjust="spacingAndGlyphs">53%</text>
<text x="224.53" y="119.76" font-family="Liberation Sans, sans-serif" font-size="12.6" fill="#727a6e" stroke="#727a6e" stroke-width="2.0" stroke-linejoin="round" text-anchor="middle" textLength="28.2" lengthAdjust="spacingAndGlyphs">30%</text>
<text x="224.53" y="119.76" font-family="Liberation Sans, sans-serif" font-size="12.6" fill="#cdf3bd" stroke="#cdf3bd" stroke-width="0.2" stroke-linejoin="round" text-anchor="middle" textLength="28.2" lengthAdjust="spacingAndGlyphs">30%</text>
<text x="224.53" y="229.62" font-family="Liberation Sans, sans-serif" font-size="10.1" fill="#f3f9f0" stroke="#f3f9f0" stroke-width="0.35" text-anchor="middle" textLength="24.4" lengthAdjust="spacingAndGlyphs">25%</text>
<text x="224.53" y="372.96" font-family="Liberation Sans, sans-serif" font-size="12.6" fill="#5a4444" stroke="#5a4444" stroke-width="2.0" stroke-linejoin="round" text-anchor="middle" textLength="28.2" lengthAdjust="spacingAndGlyphs">45%</text>
<text x="224.53" y="372.96" font-family="Liberation Sans, sans-serif" font-size="12.6" fill="#ffc4c4" stroke="#ffc4c4" stroke-width="0.2" stroke-linejoin="round" text-anchor="middle" textLength="28.2" lengthAdjust="spacingAndGlyphs">45%</text>
<text x="259.25" y="131.41" font-family="Liberation Sans, sans-serif" font-size="12.6" fill="#727a6e" stroke="#727a6e" stroke-width="2.0" stroke-linejoin="round" text-anchor="middle" textLength="28.2" lengthAdjust="spacingAndGlyphs">35%</text>
<text x="259.25" y="131.41" font-family="Liberation Sans, sans-serif" font-size="12.6" fill="#cdf3bd" stroke="#cdf3bd" stroke-width="0.2" stroke-linejoin="round" text-anchor="middle" textLength="28.2" lengthAdjust="spacingAndGlyphs">35%</text>
<text x="259.25" y="241.27" font-family="Liberation Sans, sans-serif" font-size="10.1" fill="#f3f9f0" stroke="#f3f9f0" stroke-width="0.35" text-anchor="middle" textLength="24.4" lengthAdjust="spacingAndGlyphs">20%</text>
<text x="259.25" y="372.96" font-family="Liberation Sans, sans-serif" font-size="12.6" fill="#5a4444" stroke="#5a4444" stroke-width="2.0" stroke-linejoin="round" text-anchor="middle" textLength="28.2" lengthAdjust="spacingAndGlyphs">45%</text>
<text x="259.25" y="372.96" font-family="Liberation Sans, sans-serif" font-size="12.6" fill="#ffc4c4" stroke="#ffc4c4" stroke-width="0.2" stroke-linejoin="round" text-anchor="middle" textLength="28.2" lengthAdjust="spacingAndGlyphs">45%</text>
<text x="293.97" y="120.21" font-family="Liberation Sans, sans-serif" font-size="12.6" fill="#727a6e" stroke="#727a6e" stroke-width="2.0" stroke-linejoin="round" text-anchor="middle" textLength="28.2" lengthAdjust="spacingAndGlyphs">30%</text>
<text x="293.97" y="120.21" font-family="Liberation Sans, sans-serif" font-size="12.6" fill="#cdf3bd" stroke="#cdf3bd" stroke-width="0.2" stroke-linejoin="round" text-anchor="middle" textLength="28.2" lengthAdjust="spacingAndGlyphs">30%</text>
<text x="293.97" y="232.02" font-family="Liberation Sans, sans-serif" font-size="10.1" fill="#f3f9f0" stroke="#f3f9f0" stroke-width="0.35" text-anchor="middle" textLength="24.4" lengthAdjust="spacingAndGlyphs">26%</text>
<text x="293.97" y="374.91" font-family="Liberation Sans, sans-serif" font-size="12.6" fill="#5a4444" stroke="#5a4444" stroke-width="2.0" stroke-linejoin="round" text-anchor="middle" textLength="28.2" lengthAdjust="spacingAndGlyphs">44%</text>
<text x="293.97" y="374.91" font-family="Liberation Sans, sans-serif" font-size="12.6" fill="#ffc4c4" stroke="#ffc4c4" stroke-width="0.2" stroke-linejoin="round" text-anchor="middle" textLength="28.2" lengthAdjust="spacingAndGlyphs">44%</text>
<text x="328.69" y="132.31" font-family="Liberation Sans, sans-serif" font-size="12.6" fill="#727a6e" stroke="#727a6e" stroke-width="2.0" stroke-linejoin="round" text-anchor="middle" textLength="28.2" lengthAdjust="spacingAndGlyphs">36%</text>
<text x="328.69" y="132.31" font-family="Liberation Sans, sans-serif" font-size="12.6" fill="#cdf3bd" stroke="#cdf3bd" stroke-width="0.2" stroke-linejoin="round" text-anchor="middle" textLength="28.2" lengthAdjust="spacingAndGlyphs">36%</text>
<text x="328.69" y="247.02" font-family="Liberation Sans, sans-serif" font-size="10.1" fill="#f3f9f0" stroke="#f3f9f0" stroke-width="0.35" text-anchor="middle" textLength="24.4" lengthAdjust="spacingAndGlyphs">22%</text>
<text x="328.69" y="377.81" font-family="Liberation Sans, sans-serif" font-size="12.6" fill="#5a4444" stroke="#5a4444" stroke-width="2.0" stroke-linejoin="round" text-anchor="middle" textLength="28.2" lengthAdjust="spacingAndGlyphs">43%</text>
<text x="328.69" y="377.81" font-family="Liberation Sans, sans-serif" font-size="12.6" fill="#ffc4c4" stroke="#ffc4c4" stroke-width="0.2" stroke-linejoin="round" text-anchor="middle" textLength="28.2" lengthAdjust="spacingAndGlyphs">43%</text>
<text x="363.41" y="120.96" font-family="Liberation Sans, sans-serif" font-size="12.6" fill="#727a6e" stroke="#727a6e" stroke-width="2.0" stroke-linejoin="round" text-anchor="middle" textLength="28.2" lengthAdjust="spacingAndGlyphs">30%</text>
<text x="363.41" y="120.96" font-family="Liberation Sans, sans-serif" font-size="12.6" fill="#cdf3bd" stroke="#cdf3bd" stroke-width="0.2" stroke-linejoin="round" text-anchor="middle" textLength="28.2" lengthAdjust="spacingAndGlyphs">30%</text>
<text x="363.41" y="236.52" font-family="Liberation Sans, sans-serif" font-size="10.1" fill="#f3f9f0" stroke="#f3f9f0" stroke-width="0.35" text-anchor="middle" textLength="24.4" lengthAdjust="spacingAndGlyphs">28%</text>
<text x="363.41" y="378.66" font-family="Liberation Sans, sans-serif" font-size="12.6" fill="#5a4444" stroke="#5a4444" stroke-width="2.0" stroke-linejoin="round" text-anchor="middle" textLength="28.2" lengthAdjust="spacingAndGlyphs">42%</text>
<text x="363.41" y="378.66" font-family="Liberation Sans, sans-serif" font-size="12.6" fill="#ffc4c4" stroke="#ffc4c4" stroke-width="0.2" stroke-linejoin="round" text-anchor="middle" textLength="28.2" lengthAdjust="spacingAndGlyphs">42%</text>
<text x="398.13" y="134.46" font-family="Liberation Sans, sans-serif" font-size="12.6" fill="#727a6e" stroke="#727a6e" stroke-width="2.0" stroke-linejoin="round" text-anchor="middle" textLength="28.2" lengthAdjust="spacingAndGlyphs">37%</text>
<text x="398.13" y="134.46" font-family="Liberation Sans, sans-serif" font-size="12.6" fill="#cdf3bd" stroke="#cdf3bd" stroke-width="0.2" stroke-linejoin="round" text-anchor="middle" textLength="28.2" lengthAdjust="spacingAndGlyphs">37%</text>
<text x="398.13" y="250.97" font-family="Liberation Sans, sans-serif" font-size="10.1" fill="#f3f9f0" stroke="#f3f9f0" stroke-width="0.35" text-anchor="middle" textLength="24.4" lengthAdjust="spacingAndGlyphs">21%</text>
<text x="398.13" y="379.61" font-family="Liberation Sans, sans-serif" font-size="12.6" fill="#5a4444" stroke="#5a4444" stroke-width="2.0" stroke-linejoin="round" text-anchor="middle" textLength="28.2" lengthAdjust="spacingAndGlyphs">42%</text>
<text x="398.13" y="379.61" font-family="Liberation Sans, sans-serif" font-size="12.6" fill="#ffc4c4" stroke="#ffc4c4" stroke-width="0.2" stroke-linejoin="round" text-anchor="middle" textLength="28.2" lengthAdjust="spacingAndGlyphs">42%</text>
<text x="432.85" y="142.31" font-family="Liberation Sans, sans-serif" font-size="12.6" fill="#727a6e" stroke="#727a6e" stroke-width="2.0" stroke-linejoin="round" text-anchor="middle" textLength="28.2" lengthAdjust="spacingAndGlyphs">41%</text>
<text x="432.85" y="142.31" font-family="Liberation Sans, sans-serif" font-size="12.6" fill="#cdf3bd" stroke="#cdf3bd" stroke-width="0.2" stroke-linejoin="round" text-anchor="middle" textLength="28.2" lengthAdjust="spacingAndGlyphs">41%</text>
<text x="432.85" y="260.47" font-family="Liberation Sans, sans-serif" font-size="10.1" fill="#f3f9f0" stroke="#f3f9f0" stroke-width="0.35" text-anchor="middle" textLength="24.4" lengthAdjust="spacingAndGlyphs">18%</text>
<text x="432.85" y="381.26" font-family="Liberation Sans, sans-serif" font-size="12.6" fill="#5a4444" stroke="#5a4444" stroke-width="2.0" stroke-linejoin="round" text-anchor="middle" textLength="28.2" lengthAdjust="spacingAndGlyphs">41%</text>
<text x="432.85" y="381.26" font-family="Liberation Sans, sans-serif" font-size="12.6" fill="#ffc4c4" stroke="#ffc4c4" stroke-width="0.2" stroke-linejoin="round" text-anchor="middle" textLength="28.2" lengthAdjust="spacingAndGlyphs">41%</text>
<text x="467.57" y="127.66" font-family="Liberation Sans, sans-serif" font-size="12.6" fill="#727a6e" stroke="#727a6e" stroke-width="2.0" stroke-linejoin="round" text-anchor="middle" textLength="28.2" lengthAdjust="spacingAndGlyphs">34%</text>
<text x="467.57" y="127.66" font-family="Liberation Sans, sans-serif" font-size="12.6" fill="#cdf3bd" stroke="#cdf3bd" stroke-width="0.2" stroke-linejoin="round" text-anchor="middle" textLength="28.2" lengthAdjust="spacingAndGlyphs">34%</text>
<text x="467.57" y="248.27" font-family="Liberation Sans, sans-serif" font-size="10.1" fill="#f3f9f0" stroke="#f3f9f0" stroke-width="0.35" text-anchor="middle" textLength="24.4" lengthAdjust="spacingAndGlyphs">27%</text>
<text x="467.57" y="383.71" font-family="Liberation Sans, sans-serif" font-size="12.6" fill="#5a4444" stroke="#5a4444" stroke-width="2.0" stroke-linejoin="round" text-anchor="middle" textLength="28.2" lengthAdjust="spacingAndGlyphs">40%</text>
<text x="467.57" y="383.71" font-family="Liberation Sans, sans-serif" font-size="12.6" fill="#ffc4c4" stroke="#ffc4c4" stroke-width="0.2" stroke-linejoin="round" text-anchor="middle" textLength="28.2" lengthAdjust="spacingAndGlyphs">40%</text>
<text x="502.29" y="128.86" font-family="Liberation Sans, sans-serif" font-size="12.6" fill="#d6e7cf" stroke="#d6e7cf" stroke-width="2.0" stroke-linejoin="round" text-anchor="middle" textLength="28.2" lengthAdjust="spacingAndGlyphs">35%</text>
<text x="502.29" y="128.86" font-family="Liberation Sans, sans-serif" font-size="12.6" fill="#edf6e8" stroke="#edf6e8" stroke-width="0.2" stroke-linejoin="round" text-anchor="middle" textLength="28.2" lengthAdjust="spacingAndGlyphs">35%</text>
<text x="502.29" y="251.92" font-family="Liberation Sans, sans-serif" font-size="10.1" fill="#f9fcf7" stroke="#f9fcf7" stroke-width="0.35" text-anchor="middle" textLength="24.4" lengthAdjust="spacingAndGlyphs">27%</text>
<text x="502.29" y="385.16" font-family="Liberation Sans, sans-serif" font-size="12.6" fill="#a88a8a" stroke="#a88a8a" stroke-width="2.0" stroke-linejoin="round" text-anchor="middle" textLength="28.2" lengthAdjust="spacingAndGlyphs">39%</text>
<text x="502.29" y="385.16" font-family="Liberation Sans, sans-serif" font-size="12.6" fill="#ffe8e8" stroke="#ffe8e8" stroke-width="0.2" stroke-linejoin="round" text-anchor="middle" textLength="28.2" lengthAdjust="spacingAndGlyphs">39%</text>
<text x="537.01" y="123.76" font-family="Liberation Sans, sans-serif" font-size="12.6" fill="#727a6e" stroke="#727a6e" stroke-width="2.0" stroke-linejoin="round" text-anchor="middle" textLength="28.2" lengthAdjust="spacingAndGlyphs">32%</text>
<text x="537.01" y="123.76" font-family="Liberation Sans, sans-serif" font-size="12.6" fill="#cdf3bd" stroke="#cdf3bd" stroke-width="0.2" stroke-linejoin="round" text-anchor="middle" textLength="28.2" lengthAdjust="spacingAndGlyphs">32%</text>
<text x="537.01" y="247.72" font-family="Liberation Sans, sans-serif" font-size="10.1" fill="#f3f9f0" stroke="#f3f9f0" stroke-width="0.35" text-anchor="middle" textLength="24.4" lengthAdjust="spacingAndGlyphs">30%</text>
<text x="537.01" y="387.06" font-family="Liberation Sans, sans-serif" font-size="12.6" fill="#5a4444" stroke="#5a4444" stroke-width="2.0" stroke-linejoin="round" text-anchor="middle" textLength="28.2" lengthAdjust="spacingAndGlyphs">38%</text>
<text x="537.01" y="387.06" font-family="Liberation Sans, sans-serif" font-size="12.6" fill="#ffc4c4" stroke="#ffc4c4" stroke-width="0.2" stroke-linejoin="round" text-anchor="middle" textLength="28.2" lengthAdjust="spacingAndGlyphs">38%</text>
<text x="571.73" y="137.74" font-family="Liberation Sans, sans-serif" font-size="12.6" fill="#727a6e" stroke="#727a6e" stroke-width="2.0" stroke-linejoin="round" text-anchor="middle" textLength="28.2" lengthAdjust="spacingAndGlyphs">38%</text>
<text x="571.73" y="137.74" font-family="Liberation Sans, sans-serif" font-size="12.6" fill="#cdf3bd" stroke="#cdf3bd" stroke-width="0.2" stroke-linejoin="round" text-anchor="middle" textLength="28.2" lengthAdjust="spacingAndGlyphs">38%</text>
<text x="571.73" y="263.54" font-family="Liberation Sans, sans-serif" font-size="10.1" fill="#f3f9f0" stroke="#f3f9f0" stroke-width="0.35" text-anchor="middle" textLength="24.4" lengthAdjust="spacingAndGlyphs">24%</text>
<text x="571.73" y="388.91" font-family="Liberation Sans, sans-serif" font-size="12.6" fill="#5a4444" stroke="#5a4444" stroke-width="2.0" stroke-linejoin="round" text-anchor="middle" textLength="28.2" lengthAdjust="spacingAndGlyphs">37%</text>
<text x="571.73" y="388.91" font-family="Liberation Sans, sans-serif" font-size="12.6" fill="#ffc4c4" stroke="#ffc4c4" stroke-width="0.2" stroke-linejoin="round" text-anchor="middle" textLength="28.2" lengthAdjust="spacingAndGlyphs">37%</text>
<text x="606.45" y="121.16" font-family="Liberation Sans, sans-serif" font-size="12.6" fill="#727a6e" stroke="#727a6e" stroke-width="2.0" stroke-linejoin="round" text-anchor="middle" textLength="28.2" lengthAdjust="spacingAndGlyphs">30%</text>
<text x="606.45" y="121.16" font-family="Liberation Sans, sans-serif" font-size="12.6" fill="#cdf3bd" stroke="#cdf3bd" stroke-width="0.2" stroke-linejoin="round" text-anchor="middle" textLength="28.2" lengthAdjust="spacingAndGlyphs">30%</text>
<text x="606.45" y="248.57" font-family="Liberation Sans, sans-serif" font-size="10.1" fill="#f3f9f0" stroke="#f3f9f0" stroke-width="0.35" text-anchor="middle" textLength="24.4" lengthAdjust="spacingAndGlyphs">33%</text>
<text x="606.45" y="390.51" font-family="Liberation Sans, sans-serif" font-size="12.6" fill="#5a4444" stroke="#5a4444" stroke-width="2.0" stroke-linejoin="round" text-anchor="middle" textLength="28.2" lengthAdjust="spacingAndGlyphs">36%</text>
<text x="606.45" y="390.51" font-family="Liberation Sans, sans-serif" font-size="12.6" fill="#ffc4c4" stroke="#ffc4c4" stroke-width="0.2" stroke-linejoin="round" text-anchor="middle" textLength="28.2" lengthAdjust="spacingAndGlyphs">36%</text>
<text x="641.17" y="136.01" font-family="Liberation Sans, sans-serif" font-size="12.6" fill="#727a6e" stroke="#727a6e" stroke-width="2.0" stroke-linejoin="round" text-anchor="middle" textLength="28.2" lengthAdjust="spacingAndGlyphs">38%</text>
<text x="641.17" y="136.01" font-family="Liberation Sans, sans-serif" font-size="12.6" fill="#cdf3bd" stroke="#cdf3bd" stroke-width="0.2" stroke-linejoin="round" text-anchor="middle" textLength="28.2" lengthAdjust="spacingAndGlyphs">38%</text>
<text x="641.17" y="264.34" font-family="Liberation Sans, sans-serif" font-size="10.1" fill="#f3f9f0" stroke="#f3f9f0" stroke-width="0.35" text-anchor="middle" textLength="24.4" lengthAdjust="spacingAndGlyphs">27%</text>
<text x="641.17" y="391.44" font-family="Liberation Sans, sans-serif" font-size="12.6" fill="#5a4444" stroke="#5a4444" stroke-width="2.0" stroke-linejoin="round" text-anchor="middle" textLength="28.2" lengthAdjust="spacingAndGlyphs">36%</text>
<text x="641.17" y="391.44" font-family="Liberation Sans, sans-serif" font-size="12.6" fill="#ffc4c4" stroke="#ffc4c4" stroke-width="0.2" stroke-linejoin="round" text-anchor="middle" textLength="28.2" lengthAdjust="spacingAndGlyphs">36%</text>
<text x="675.89" y="131.31" font-family="Liberation Sans, sans-serif" font-size="12.6" fill="#727a6e" stroke="#727a6e" stroke-width="2.0" stroke-linejoin="round" text-anchor="middle" textLength="28.2" lengthAdjust="spacingAndGlyphs">35%</text>
<text x="675.89" y="131.31" font-family="Liberation Sans, sans-serif" font-size="12.6" fill="#cdf3bd" stroke="#cdf3bd" stroke-width="0.2" stroke-linejoin="round" text-anchor="middle" textLength="28.2" lengthAdjust="spacingAndGlyphs">35%</text>
<text x="675.89" y="261.72" font-family="Liberation Sans, sans-serif" font-size="10.1" fill="#f3f9f0" stroke="#f3f9f0" stroke-width="0.35" text-anchor="middle" textLength="24.4" lengthAdjust="spacingAndGlyphs">30%</text>
<text x="675.89" y="393.51" font-family="Liberation Sans, sans-serif" font-size="12.6" fill="#5a4444" stroke="#5a4444" stroke-width="2.0" stroke-linejoin="round" text-anchor="middle" textLength="28.2" lengthAdjust="spacingAndGlyphs">35%</text>
<text x="675.89" y="393.51" font-family="Liberation Sans, sans-serif" font-size="12.6" fill="#ffc4c4" stroke="#ffc4c4" stroke-width="0.2" stroke-linejoin="round" text-anchor="middle" textLength="28.2" lengthAdjust="spacingAndGlyphs">35%</text>
<text x="710.61" y="132.81" font-family="Liberation Sans, sans-serif" font-size="12.6" fill="#727a6e" stroke="#727a6e" stroke-width="2.0" stroke-linejoin="round" text-anchor="middle" textLength="28.2" lengthAdjust="spacingAndGlyphs">36%</text>
<text x="710.61" y="132.81" font-family="Liberation Sans, sans-serif" font-size="12.6" fill="#cdf3bd" stroke="#cdf3bd" stroke-width="0.2" stroke-linejoin="round" text-anchor="middle" textLength="28.2" lengthAdjust="spacingAndGlyphs">36%</text>
<text x="710.61" y="264.72" font-family="Liberation Sans, sans-serif" font-size="10.1" fill="#f3f9f0" stroke="#f3f9f0" stroke-width="0.35" text-anchor="middle" textLength="24.4" lengthAdjust="spacingAndGlyphs">30%</text>
<text x="710.61" y="395.01" font-family="Liberation Sans, sans-serif" font-size="12.6" fill="#5a4444" stroke="#5a4444" stroke-width="2.0" stroke-linejoin="round" text-anchor="middle" textLength="28.2" lengthAdjust="spacingAndGlyphs">34%</text>
<text x="710.61" y="395.01" font-family="Liberation Sans, sans-serif" font-size="12.6" fill="#ffc4c4" stroke="#ffc4c4" stroke-width="0.2" stroke-linejoin="round" text-anchor="middle" textLength="28.2" lengthAdjust="spacingAndGlyphs">34%</text>
<text x="745.33" y="134.36" font-family="Liberation Sans, sans-serif" font-size="12.6" fill="#727a6e" stroke="#727a6e" stroke-width="2.0" stroke-linejoin="round" text-anchor="middle" textLength="28.2" lengthAdjust="spacingAndGlyphs">37%</text>
<text x="745.33" y="134.36" font-family="Liberation Sans, sans-serif" font-size="12.6" fill="#cdf3bd" stroke="#cdf3bd" stroke-width="0.2" stroke-linejoin="round" text-anchor="middle" textLength="28.2" lengthAdjust="spacingAndGlyphs">37%</text>
<text x="745.33" y="266.79" font-family="Liberation Sans, sans-serif" font-size="10.1" fill="#f3f9f0" stroke="#f3f9f0" stroke-width="0.35" text-anchor="middle" textLength="24.4" lengthAdjust="spacingAndGlyphs">29%</text>
<text x="745.33" y="395.54" font-family="Liberation Sans, sans-serif" font-size="12.6" fill="#5a4444" stroke="#5a4444" stroke-width="2.0" stroke-linejoin="round" text-anchor="middle" textLength="28.2" lengthAdjust="spacingAndGlyphs">34%</text>
<text x="745.33" y="395.54" font-family="Liberation Sans, sans-serif" font-size="12.6" fill="#ffc4c4" stroke="#ffc4c4" stroke-width="0.2" stroke-linejoin="round" text-anchor="middle" textLength="28.2" lengthAdjust="spacingAndGlyphs">34%</text>
<text x="780.05" y="135.41" font-family="Liberation Sans, sans-serif" font-size="12.6" fill="#727a6e" stroke="#727a6e" stroke-width="2.0" stroke-linejoin="round" text-anchor="middle" textLength="28.2" lengthAdjust="spacingAndGlyphs">37%</text>
<text x="780.05" y="135.41" font-family="Liberation Sans, sans-serif" font-size="12.6" fill="#cdf3bd" stroke="#cdf3bd" stroke-width="0.2" stroke-linejoin="round" text-anchor="middle" textLength="28.2" lengthAdjust="spacingAndGlyphs">37%</text>
<text x="780.05" y="270.27" font-family="Liberation Sans, sans-serif" font-size="10.1" fill="#f3f9f0" stroke="#f3f9f0" stroke-width="0.35" text-anchor="middle" textLength="24.4" lengthAdjust="spacingAndGlyphs">30%</text>
<text x="780.05" y="397.96" font-family="Liberation Sans, sans-serif" font-size="12.6" fill="#5a4444" stroke="#5a4444" stroke-width="2.0" stroke-linejoin="round" text-anchor="middle" textLength="28.2" lengthAdjust="spacingAndGlyphs">32%</text>
<text x="780.05" y="397.96" font-family="Liberation Sans, sans-serif" font-size="12.6" fill="#ffc4c4" stroke="#ffc4c4" stroke-width="0.2" stroke-linejoin="round" text-anchor="middle" textLength="28.2" lengthAdjust="spacingAndGlyphs">32%</text>
<text x="814.77" y="127.41" font-family="Liberation Sans, sans-serif" font-size="12.6" fill="#727a6e" stroke="#727a6e" stroke-width="2.0" stroke-linejoin="round" text-anchor="middle" textLength="28.2" lengthAdjust="spacingAndGlyphs">33%</text>
<text x="814.77" y="127.41" font-family="Liberation Sans, sans-serif" font-size="12.6" fill="#cdf3bd" stroke="#cdf3bd" stroke-width="0.2" stroke-linejoin="round" text-anchor="middle" textLength="28.2" lengthAdjust="spacingAndGlyphs">33%</text>
<text x="814.77" y="265.52" font-family="Liberation Sans, sans-serif" font-size="10.1" fill="#f3f9f0" stroke="#f3f9f0" stroke-width="0.35" text-anchor="middle" textLength="24.4" lengthAdjust="spacingAndGlyphs">36%</text>
<text x="814.77" y="401.21" font-family="Liberation Sans, sans-serif" font-size="12.6" fill="#5a4444" stroke="#5a4444" stroke-width="2.0" stroke-linejoin="round" text-anchor="middle" textLength="28.2" lengthAdjust="spacingAndGlyphs">31%</text>
<text x="814.77" y="401.21" font-family="Liberation Sans, sans-serif" font-size="12.6" fill="#ffc4c4" stroke="#ffc4c4" stroke-width="0.2" stroke-linejoin="round" text-anchor="middle" textLength="28.2" lengthAdjust="spacingAndGlyphs">31%</text>
<text x="849.49" y="141.21" font-family="Liberation Sans, sans-serif" font-size="12.6" fill="#727a6e" stroke="#727a6e" stroke-width="2.0" stroke-linejoin="round" text-anchor="middle" textLength="28.2" lengthAdjust="spacingAndGlyphs">40%</text>
<text x="849.49" y="141.21" font-family="Liberation Sans, sans-serif" font-size="12.6" fill="#cdf3bd" stroke="#cdf3bd" stroke-width="0.2" stroke-linejoin="round" text-anchor="middle" textLength="28.2" lengthAdjust="spacingAndGlyphs">40%</text>
<text x="849.49" y="281.32" font-family="Liberation Sans, sans-serif" font-size="10.1" fill="#f3f9f0" stroke="#f3f9f0" stroke-width="0.35" text-anchor="middle" textLength="24.4" lengthAdjust="spacingAndGlyphs">30%</text>
<text x="849.49" y="403.21" font-family="Liberation Sans, sans-serif" font-size="12.6" fill="#5a4444" stroke="#5a4444" stroke-width="2.0" stroke-linejoin="round" text-anchor="middle" textLength="28.2" lengthAdjust="spacingAndGlyphs">30%</text>
<text x="849.49" y="403.21" font-family="Liberation Sans, sans-serif" font-size="12.6" fill="#ffc4c4" stroke="#ffc4c4" stroke-width="0.2" stroke-linejoin="round" text-anchor="middle" textLength="28.2" lengthAdjust="spacingAndGlyphs">30%</text>
<text x="884.21" y="125.41" font-family="Liberation Sans, sans-serif" font-size="12.6" fill="#727a6e" stroke="#727a6e" stroke-width="2.0" stroke-linejoin="round" text-anchor="middle" textLength="28.2" lengthAdjust="spacingAndGlyphs">32%</text>
<text x="884.21" y="125.41" font-family="Liberation Sans, sans-serif" font-size="12.6" fill="#cdf3bd" stroke="#cdf3bd" stroke-width="0.2" stroke-linejoin="round" text-anchor="middle" textLength="28.2" lengthAdjust="spacingAndGlyphs">32%</text>
<text x="884.21" y="269.12" font-family="Liberation Sans, sans-serif" font-size="10.1" fill="#f3f9f0" stroke="#f3f9f0" stroke-width="0.35" text-anchor="middle" textLength="24.4" lengthAdjust="spacingAndGlyphs">39%</text>
<text x="884.21" y="406.81" font-family="Liberation Sans, sans-serif" font-size="12.6" fill="#5a4444" stroke="#5a4444" stroke-width="2.0" stroke-linejoin="round" text-anchor="middle" textLength="28.2" lengthAdjust="spacingAndGlyphs">28%</text>
<text x="884.21" y="406.81" font-family="Liberation Sans, sans-serif" font-size="12.6" fill="#ffc4c4" stroke="#ffc4c4" stroke-width="0.2" stroke-linejoin="round" text-anchor="middle" textLength="28.2" lengthAdjust="spacingAndGlyphs">28%</text>
<text x="918.93" y="129.89" font-family="Liberation Sans, sans-serif" font-size="12.6" fill="#727a6e" stroke="#727a6e" stroke-width="2.0" stroke-linejoin="round" text-anchor="middle" textLength="28.2" lengthAdjust="spacingAndGlyphs">35%</text>
<text x="918.93" y="129.89" font-family="Liberation Sans, sans-serif" font-size="12.6" fill="#cdf3bd" stroke="#cdf3bd" stroke-width="0.2" stroke-linejoin="round" text-anchor="middle" textLength="28.2" lengthAdjust="spacingAndGlyphs">35%</text>
<text x="918.93" y="283.94" font-family="Liberation Sans, sans-serif" font-size="10.1" fill="#f3f9f0" stroke="#f3f9f0" stroke-width="0.35" text-anchor="middle" textLength="24.4" lengthAdjust="spacingAndGlyphs">42%</text>
<text x="918.93" y="417.16" font-family="Liberation Sans, sans-serif" font-size="12.6" fill="#5a4444" stroke="#5a4444" stroke-width="2.0" stroke-linejoin="round" text-anchor="middle" textLength="28.2" lengthAdjust="spacingAndGlyphs">23%</text>
<text x="918.93" y="417.16" font-family="Liberation Sans, sans-serif" font-size="12.6" fill="#ffc4c4" stroke="#ffc4c4" stroke-width="0.2" stroke-linejoin="round" text-anchor="middle" textLength="28.2" lengthAdjust="spacingAndGlyphs">23%</text>
<text x="94.65" y="473.60" font-family="Liberation Sans, sans-serif" font-size="12.6" fill="#333333" stroke="#333333" stroke-width="0.25" text-anchor="end" transform="rotate(-45 94.65 473.60)" textLength="51.7" lengthAdjust="spacingAndGlyphs">Formosa</text>
<text x="129.37" y="473.60" font-family="Liberation Sans, sans-serif" font-size="12.6" fill="#333333" stroke="#333333" stroke-width="0.25" text-anchor="end" transform="rotate(-45 129.37 473.60)" textLength="62.1" lengthAdjust="spacingAndGlyphs">Corrientes</text>
<text x="164.09" y="473.60" font-family="Liberation Sans, sans-serif" font-size="12.6" fill="#333333" stroke="#333333" stroke-width="0.25" text-anchor="end" transform="rotate(-45 164.09 473.60)" textLength="117.5" lengthAdjust="spacingAndGlyphs">Santiago del Estero</text>
<text x="198.81" y="473.60" font-family="Liberation Sans, sans-serif" font-size="12.6" fill="#333333" stroke="#333333" stroke-width="0.25" text-anchor="end" transform="rotate(-45 198.81 473.60)" textLength="51.2" lengthAdjust="spacingAndGlyphs">Misiones</text>
<text x="233.53" y="473.60" font-family="Liberation Sans, sans-serif" font-size="12.6" fill="#333333" stroke="#333333" stroke-width="0.25" text-anchor="end" transform="rotate(-45 233.53 473.60)" textLength="30.6" lengthAdjust="spacingAndGlyphs">Salta</text>
<text x="268.25" y="473.60" font-family="Liberation Sans, sans-serif" font-size="12.6" fill="#333333" stroke="#333333" stroke-width="0.25" text-anchor="end" transform="rotate(-45 268.25 473.60)" textLength="36.7" lengthAdjust="spacingAndGlyphs">Chaco</text>
<text x="302.97" y="473.60" font-family="Liberation Sans, sans-serif" font-size="12.6" fill="#333333" stroke="#333333" stroke-width="0.25" text-anchor="end" transform="rotate(-45 302.97 473.60)" textLength="48.4" lengthAdjust="spacingAndGlyphs">La Rioja</text>
<text x="337.69" y="473.60" font-family="Liberation Sans, sans-serif" font-size="12.6" fill="#333333" stroke="#333333" stroke-width="0.25" text-anchor="end" transform="rotate(-45 337.69 473.60)" textLength="55.3" lengthAdjust="spacingAndGlyphs">Tucumán</text>
<text x="372.41" y="473.60" font-family="Liberation Sans, sans-serif" font-size="12.6" fill="#333333" stroke="#333333" stroke-width="0.25" text-anchor="end" transform="rotate(-45 372.41 473.60)" textLength="31.9" lengthAdjust="spacingAndGlyphs">Jujuy</text>
<text x="407.13" y="473.60" font-family="Liberation Sans, sans-serif" font-size="12.6" fill="#333333" stroke="#333333" stroke-width="0.25" text-anchor="end" transform="rotate(-45 407.13 473.60)" textLength="50.2" lengthAdjust="spacingAndGlyphs">Córdoba</text>
<text x="441.85" y="473.60" font-family="Liberation Sans, sans-serif" font-size="12.6" fill="#333333" stroke="#333333" stroke-width="0.25" text-anchor="end" transform="rotate(-45 441.85 473.60)" textLength="53.5" lengthAdjust="spacingAndGlyphs">Neuquén</text>
<text x="476.57" y="473.60" font-family="Liberation Sans, sans-serif" font-size="12.6" fill="#333333" stroke="#333333" stroke-width="0.25" text-anchor="end" transform="rotate(-45 476.57 473.60)" textLength="51.1" lengthAdjust="spacingAndGlyphs">San Luis</text>
<text x="511.29" y="473.60" font-family="Liberation Sans, sans-serif" font-size="12.6" fill="#333333" stroke="#333333" stroke-width="0.25" text-anchor="end" transform="rotate(-45 511.29 473.60)" textLength="58.1" lengthAdjust="spacingAndGlyphs">Total País</text>
<text x="546.01" y="473.60" font-family="Liberation Sans, sans-serif" font-size="12.6" fill="#333333" stroke="#333333" stroke-width="0.25" text-anchor="end" transform="rotate(-45 546.01 473.60)" textLength="53.2" lengthAdjust="spacingAndGlyphs">Santa Fe</text>
<text x="580.73" y="473.60" font-family="Liberation Sans, sans-serif" font-size="12.6" fill="#333333" stroke="#333333" stroke-width="0.25" text-anchor="end" transform="rotate(-45 580.73 473.60)" textLength="61.6" lengthAdjust="spacingAndGlyphs">Entre Rios</text>
<text x="615.45" y="473.60" font-family="Liberation Sans, sans-serif" font-size="12.6" fill="#333333" stroke="#333333" stroke-width="0.25" text-anchor="end" transform="rotate(-45 615.45 473.60)" textLength="58.9" lengthAdjust="spacingAndGlyphs">La Pampa</text>
<text x="650.17" y="473.60" font-family="Liberation Sans, sans-serif" font-size="12.6" fill="#333333" stroke="#333333" stroke-width="0.25" text-anchor="end" transform="rotate(-45 650.17 473.60)" textLength="53.1" lengthAdjust="spacingAndGlyphs">Mendoza</text>
<text x="684.89" y="473.60" font-family="Liberation Sans, sans-serif" font-size="12.6" fill="#333333" stroke="#333333" stroke-width="0.25" text-anchor="end" transform="rotate(-45 684.89 473.60)" textLength="78.4" lengthAdjust="spacingAndGlyphs">Buenos Aires</text>
<text x="719.61" y="473.60" font-family="Liberation Sans, sans-serif" font-size="12.6" fill="#333333" stroke="#333333" stroke-width="0.25" text-anchor="end" transform="rotate(-45 719.61 473.60)" textLength="55.1" lengthAdjust="spacingAndGlyphs">San Juan</text>
<text x="754.33" y="473.60" font-family="Liberation Sans, sans-serif" font-size="12.6" fill="#333333" stroke="#333333" stroke-width="0.25" text-anchor="end" transform="rotate(-45 754.33 473.60)" textLength="59.1" lengthAdjust="spacingAndGlyphs">Rio Negro</text>
<text x="789.05" y="473.60" font-family="Liberation Sans, sans-serif" font-size="12.6" fill="#333333" stroke="#333333" stroke-width="0.25" text-anchor="end" transform="rotate(-45 789.05 473.60)" textLength="33.0" lengthAdjust="spacingAndGlyphs">CABA</text>
<text x="823.77" y="473.60" font-family="Liberation Sans, sans-serif" font-size="12.6" fill="#333333" stroke="#333333" stroke-width="0.25" text-anchor="end" transform="rotate(-45 823.77 473.60)" textLength="66.6" lengthAdjust="spacingAndGlyphs">Santa Cruz</text>
<text x="858.49" y="473.60" font-family="Liberation Sans, sans-serif" font-size="12.6" fill="#333333" stroke="#333333" stroke-width="0.25" text-anchor="end" transform="rotate(-45 858.49 473.60)" textLength="43.4" lengthAdjust="spacingAndGlyphs">Chubut</text>
<text x="893.21" y="473.60" font-family="Liberation Sans, sans-serif" font-size="12.6" fill="#333333" stroke="#333333" stroke-width="0.25" text-anchor="end" transform="rotate(-45 893.21 473.60)" textLength="65.0" lengthAdjust="spacingAndGlyphs">Catamarca</text>
<text x="927.93" y="473.60" font-family="Liberation Sans, sans-serif" font-size="12.6" fill="#333333" stroke="#333333" stroke-width="0.25" text-anchor="end" transform="rotate(-45 927.93 473.60)" textLength="98.1" lengthAdjust="spacingAndGlyphs">Tierra del Fuego</text>
</svg>
</body></html>
